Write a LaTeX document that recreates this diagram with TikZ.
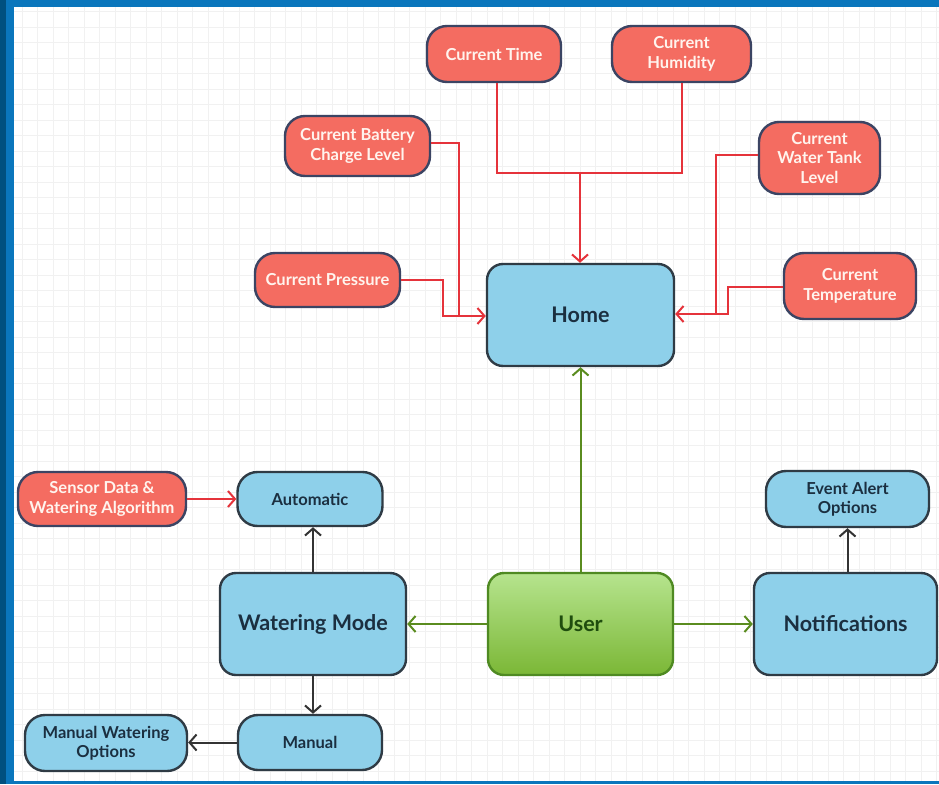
\documentclass[tikz,border=0pt]{standalone}
\usepackage{fontspec}
\setmainfont{Lato}
\usetikzlibrary{arrows.meta}
\definecolor{frameblue}{HTML}{0A76BC}
\definecolor{framedark}{HTML}{00507F}
\definecolor{gridc}{HTML}{F1F1F1}
\definecolor{redfill}{HTML}{F46C61}
\definecolor{redline}{HTML}{E5333B}
\definecolor{navy}{HTML}{3B4463}
\definecolor{redtext}{HTML}{FFF4EE}
\definecolor{bluefill}{HTML}{8ED0EA}
\definecolor{blueborder}{HTML}{2F3B45}
\definecolor{bluetext}{HTML}{1B2F40}
\definecolor{greentop}{HTML}{B6E48E}
\definecolor{greenbot}{HTML}{7BB736}
\definecolor{greenborder}{HTML}{4F8A22}
\definecolor{greentext}{HTML}{1F4D0E}
\definecolor{greenline}{HTML}{5A8C1F}
\definecolor{darkline}{HTML}{333333}
\tikzset{
  box/.style={rectangle, line width=2.4, align=center, inner sep=0pt},
  rednode/.style={box, fill=redfill, draw=navy, rounded corners=20, text=redtext,
    font=\bfseries\fontsize{16.5}{19.5}\selectfont},
  bluesmall/.style={box, fill=bluefill, draw=blueborder, rounded corners=20, text=bluetext,
    font=\bfseries\fontsize{16.5}{19.5}\selectfont},
  bluebig/.style={box, fill=bluefill, draw=blueborder, rounded corners=16, text=bluetext,
    font=\bfseries\fontsize{21.5}{25}\selectfont},
  greenbig/.style={box, top color=greentop, bottom color=greenbot, draw=greenborder,
    rounded corners=16, text=greentext, font=\bfseries\fontsize{21.5}{25}\selectfont},
  tip/.style={-{Straight Barb[length=7pt,width=16pt]}},
  redarrow/.style={draw=redline, line width=2, tip},
  redlink/.style={draw=redline, line width=2},
  greenarrow/.style={draw=greenline, line width=2, tip},
  darkarrow/.style={draw=darkline, line width=2, tip},
}
\begin{document}
\begin{tikzpicture}[x=1pt, y=-1pt]
\useasboundingbox (0,0) rectangle (939,784);
\fill[white] (0,0) rectangle (939,784);
% grid
\foreach \gx in {6.7,22.2,...,939} {\draw[gridc, line width=0.6] (\gx,7) -- (\gx,781);}
\foreach \gy in {11.5,27,...,781} {\draw[gridc, line width=0.6] (14,\gy) -- (939,\gy);}
% frame
\fill[frameblue] (0,0) rectangle (939,7);
\fill[frameblue] (0,781) rectangle (939,784);
\fill[frameblue] (0,0) rectangle (14,784);
\fill[framedark] (0,0) rectangle (6,784);

% red nodes
\node[rednode, minimum width=134, minimum height=56] (ct) at (494,54) {Current Time};
\node[rednode, minimum width=139, minimum height=56] (hum) at (681.5,54) {Current\\Humidity};
\node[rednode, minimum width=145, minimum height=60] (bat) at (357.5,146) {Current Battery\\Charge Level};
\node[rednode, minimum width=121, minimum height=72] (tank) at (819.5,158) {Current\\Water Tank\\Level};
\node[rednode, minimum width=145, minimum height=54] (pres) at (327.5,280) {Current Pressure};
\node[rednode, minimum width=132, minimum height=66] (temp) at (850,286) {Current\\Temperature};
\node[rednode, minimum width=168, minimum height=54] (sens) at (102,499) {Sensor Data \&\\Watering Algorithm};

% blue nodes
\node[bluebig, minimum width=187, minimum height=102] (home) at (580.5,315) {Home};
\node[bluesmall, minimum width=145, minimum height=54] (auto) at (310,499) {Automatic};
\node[bluesmall, minimum width=163, minimum height=56] (evt) at (847.5,499) {Event Alert\\Options};
\node[bluebig, minimum width=186, minimum height=102] (wm) at (313,624) {Watering Mode};
\node[greenbig, minimum width=185, minimum height=102] (user) at (580.5,624) {User};
\node[bluebig, minimum width=183, minimum height=102] (notif) at (845.5,624) {Notifications};
\node[bluesmall, minimum width=144, minimum height=55] (man) at (310,742.5) {Manual};
\node[bluesmall, minimum width=162, minimum height=56] (mwo) at (106,743) {Manual Watering\\Options};

% junction coordinates
\coordinate (jtop) at (580,173);
\coordinate (jleft) at (459,316);
\coordinate (jright) at (716,314);

% red connectors into Home
\draw[redlink] ([xshift=3pt]ct.south) |- (jtop);
\draw[redlink] (hum.south) |- (jtop);
\draw[redarrow] (jtop) -- (jtop |- home.north);
\draw[redlink] ([yshift=3pt]bat.east) -| (jleft);
\draw[redarrow] (pres.east) -| (443,316) -- (home.west |- jleft);
\draw[redlink] ([yshift=3pt]tank.west) -| (jright);
\draw[redarrow] ([yshift=-1pt]temp.west) -| (728,314) -- (home.east |- jright);
\draw[redarrow] (sens.east) -- (auto.west);

% green connectors from User
\draw[greenarrow] (user.north) -- (home.south);
\draw[greenarrow] (user.west) -- (wm.east);
\draw[greenarrow] (user.east) -- (notif.west);

% dark connectors
\draw[darkarrow] (wm.north) -- (wm.north |- auto.south);
\draw[darkarrow] (wm.south) -- (wm.south |- man.north);
\draw[darkarrow] (man.west) -- (man.west -| mwo.east);
\draw[darkarrow] (notif.north -| evt.south) -- (evt.south);
\end{tikzpicture}
\end{document}
